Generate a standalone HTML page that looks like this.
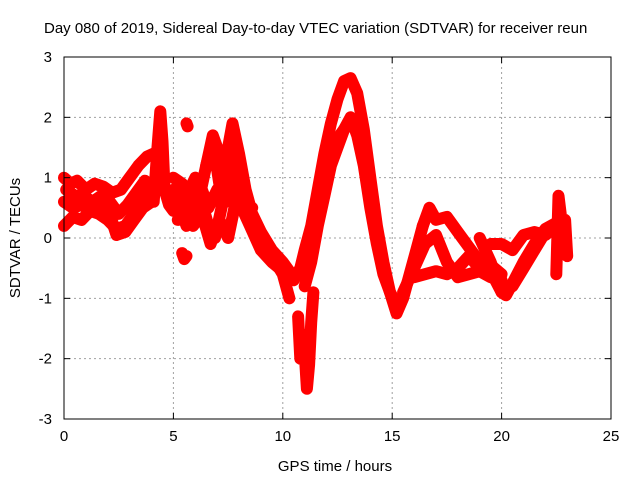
<!DOCTYPE html>
<html><head><meta charset="utf-8"><style>
body{margin:0;background:#fff}
svg{display:block;font-family:"Liberation Sans",sans-serif}
</style></head><body>
<svg id="chart" width="640" height="480" viewBox="0 0 640 480">
<text x="44" y="33" font-size="15" fill="#000">Day 080 of 2019, Sidereal Day-to-day VTEC variation (SDTVAR) for receiver reun</text>
<g id="grid"></g>
<g id="marks"></g>
<rect x="64" y="57" width="547" height="362" fill="none" stroke="#000" stroke-width="1"/>
<g id="ticks"></g>
<text x="335" y="471" font-size="15" text-anchor="middle">GPS time / hours</text>
<text transform="translate(20,238) rotate(-90)" font-size="15" text-anchor="middle">SDTVAR / TECUs</text>
</svg>
<script>
const xTicks=[0,5,10,15,20,25];
const yTicks=[-3,-2,-1,0,1,2,3];
const hA=[0,0.3,0.6,1,1.4,1.8,2.2,2.6,3,3.4,3.8,4.1];
const vA=[1.0,0.9,0.95,0.8,0.9,0.85,0.75,0.8,1.0,1.2,1.35,1.4];
const hB=[0,0.4,0.8,1.2,1.6,2,2.4,2.8,3.2,3.6,4,4.2];
const vB=[0.6,0.5,0.55,0.45,0.4,0.3,0.15,0.2,0.4,0.6,0.8,0.9];
const hC=[0,0.4,0.8,1.2,1.6,2,2.4,2.8,3.2,3.6,4];
const vC=[0.2,0.35,0.3,0.45,0.55,0.5,0.05,0.1,0.3,0.5,0.6];
const hL=[0.1,0.5,0.9,1.3,1.7,2.1,2.5,2.9,3.3,3.7];
const vL=[0.8,0.7,0.7,0.6,0.7,0.6,0.4,0.55,0.75,0.95];
const hD=[4.1,4.25,4.4,4.5,4.6,4.8,5.0,5.2];
const vD=[0.6,1.4,2.1,1.6,0.8,0.55,0.45,0.6];
const hE=[5.0,5.3,5.6,5.9,6.2,6.5,6.8,7.1,7.4,7.7,8.0,8.3,8.6,9.0,9.5,10,10.5];
const vE=[0.8,0.5,0.2,0.4,0.7,1.2,1.6,0.9,1.3,1.9,1.4,0.8,0.4,0.1,-0.2,-0.4,-0.65];
const hF=[5.2,5.6,6,6.3,6.6,6.9,7.2,7.5,7.8,8.1,8.5,9,9.5,10,10.3];
const vF=[0.3,0.7,1.0,0.6,0.2,0.0,0.5,1.1,1.5,0.9,0.3,0.0,-0.3,-0.6,-1.0];
const hG=[6.5,6.8,7.1,7.4,7.7,8,8.5,9,9.5,10,10.4];
const vG=[1.2,1.7,1.4,0.9,1.0,0.6,0.2,-0.2,-0.4,-0.55,-0.6];
const hM=[5.0,5.4,5.8,6.2,6.6,7.0,7.4,7.8,8.2,8.6];
const vM=[1.0,0.9,0.6,0.9,0.5,0.8,0.6,1.0,0.6,0.5];
const hN=[5.5,5.9,6.3,6.7,7.1,7.5,7.9];
const vN=[0.5,0.2,0.4,-0.1,0.3,0.0,0.7];
const hBlob=[5.4,5.5,5.6];
const vBlob=[-0.25,-0.35,-0.3];
const hDot=[5.6,5.65];
const vDot=[1.9,1.85];
const hH=[10.5,10.8,11,11.3,11.6,11.9,12.2,12.5,12.8,13.1,13.4,13.7,14,14.3,14.6,14.9,15.2,15.5,15.8,16.1,16.4];
const vH=[-0.7,-0.5,-0.2,0.2,0.8,1.4,1.9,2.3,2.6,2.65,2.4,1.8,1.0,0.2,-0.4,-0.9,-1.25,-1.0,-0.6,-0.2,0.2];
const hI=[11,11.3,11.6,11.9,12.2,12.5,12.8,13.1,13.4,13.7,14,14.3,14.6,14.9,15.2];
const vI=[-0.8,-0.4,0.2,0.7,1.2,1.5,1.8,2.0,1.7,1.2,0.5,-0.1,-0.6,-0.9,-1.1];
const hO=[11.1,11.4,11.7,12.0,12.3,12.6,12.9];
const vO=[-0.5,0.0,0.5,1.0,1.5,1.7,1.85];
const hJ=[10.7,10.8,10.9,11.0,11.1,11.2,11.3,11.4];
const vJ=[-1.3,-2.0,-1.6,-1.9,-2.5,-2.1,-1.4,-0.9];
const hU1=[16.4,16.7,17,17.5,18,18.5,19,19.5,20,20.5,21,21.5,22,22.5,22.9];
const vU1=[0.2,0.5,0.3,0.35,0.1,-0.15,-0.4,-0.55,-0.9,-0.8,-0.5,-0.2,0.1,0.25,0.1];
const hU2=[15.5,16,16.5,17,17.5,18,18.5,19,19.5,20];
const vU2=[-0.9,-0.5,-0.1,0.05,-0.4,-0.65,-0.6,-0.55,-0.65,-0.7];
const hU3=[16,16.5,17,17.5,18,18.5,19,19.5,20];
const vU3=[-0.65,-0.6,-0.55,-0.6,-0.5,-0.3,-0.5,-0.45,-0.6];
const hU4=[19,19.5,20,20.2,20.5,21,21.5,22,22.5];
const vU4=[0.0,-0.4,-0.9,-0.95,-0.75,-0.4,-0.1,0.15,0.25];
const hU5=[19.5,20,20.5,21,21.5,22,22.5,22.9];
const vU5=[-0.1,-0.1,-0.2,0.05,0.1,0.05,0.2,0.0];
const hK=[22.5,22.6,22.7,22.8,22.9,23.0];
const vK=[-0.6,0.7,0.4,-0.1,0.3,-0.3];
const tracks=[[hA,vA],[hB,vB],[hC,vC],[hL,vL],[hD,vD],[hE,vE],[hF,vF],[hG,vG],[hM,vM],[hN,vN],[hBlob,vBlob],[hDot,vDot],[hH,vH],[hI,vI],[hO,vO],[hJ,vJ],[hU1,vU1],[hU2,vU2],[hU3,vU3],[hU4,vU4],[hU5,vU5],[hK,vK]];
const NS='http://www.w3.org/2000/svg';
const X0=64,X1=611,Y0=419,Y1=57;
function sx(h){return X0+(h-0)/(25-0)*(X1-X0);}
function sy(v){return Y0-(v+3)/6*(Y0-Y1);}
const grid=document.getElementById('grid'),ticks=document.getElementById('ticks'),marks=document.getElementById('marks');
function mk(tag,attrs,parent){const e=document.createElementNS(NS,tag);for(const k in attrs)e.setAttribute(k,attrs[k]);parent.appendChild(e);return e;}
xTicks.forEach(t=>{
  const x=sx(t);
  if(t>0&&t<25){const g=mk('line',{x1:x,x2:x,y1:Y1,y2:Y0,stroke:'#a0a0a0','stroke-dasharray':'2,3'},grid);
  
  }
  const l=mk('text',{x:x,y:441,'font-size':15,'text-anchor':'middle'},ticks);l.textContent=t;
  
  
  mk('line',{x1:x,x2:x,y1:Y0,y2:Y0-6,stroke:'#000'},ticks);
  mk('line',{x1:x,x2:x,y1:Y1,y2:Y1+6,stroke:'#000'},ticks);
});
yTicks.forEach(t=>{
  const y=sy(t);
  if(t>-3&&t<3){const g=mk('line',{x1:X0,x2:X1,y1:y,y2:y,stroke:'#a0a0a0','stroke-dasharray':'2,3'},grid);
  
  }
  const l=mk('text',{x:52,y:y+5,'font-size':15,'text-anchor':'end'},ticks);l.textContent=t;
  
  
  mk('line',{x1:X0,x2:X0+6,y1:y,y2:y,stroke:'#000'},ticks);
  mk('line',{x1:X1,x2:X1-6,y1:y,y2:y,stroke:'#000'},ticks);
});
tracks.forEach(([hs,vs])=>{
  const pts=hs.map((h,i)=>sx(h).toFixed(1)+','+sy(vs[i]).toFixed(1)).join(' ');
  const pl=mk('polyline',{points:pts,fill:'none',stroke:'#ff0000','stroke-width':12,'stroke-linejoin':'round','stroke-linecap':'round'},marks);
  
  
  hs.forEach((h,i)=>{
    const x=sx(h),y=sy(vs[i]);
    const p=mk('path',{d:`M${x-4},${y}h8M${x},${y-4}v8`,stroke:'#ff0000','stroke-width':1.5},marks);
    
    
  });
});
</script>
</body></html>
